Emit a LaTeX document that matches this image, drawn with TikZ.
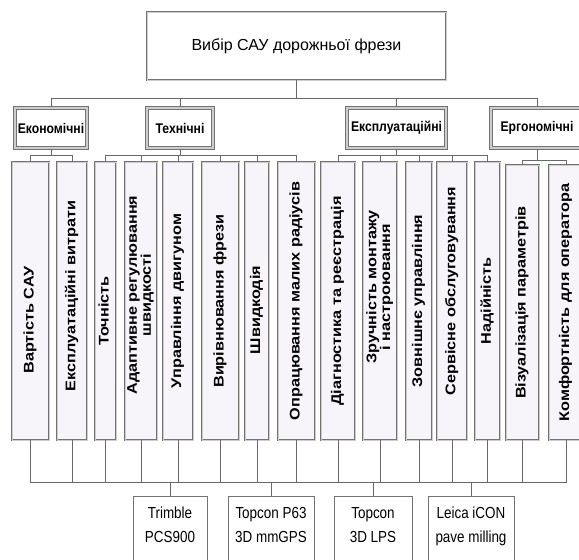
\documentclass[tikz,border=0pt]{standalone}
\usepackage{fontspec}
\setmainfont{Liberation Sans}
\usepackage{graphicx}

\definecolor{framegray}{RGB}{115,115,115}
\definecolor{bandgray}{RGB}{205,205,205}
\definecolor{leaffill}{RGB}{247,245,250}
\definecolor{linegray}{RGB}{105,105,105}

% rotated label of a criterion, optional shift along the box
\newcommand{\vtext}[2][0pt]{\rotatebox{90}{\hspace*{#1}\scalebox{1.16}[1]{\begin{tabular}{@{}c@{}}#2\end{tabular}}\hspace*{-#1}}}
\newcommand{\ctext}[1]{\scalebox{0.87}[1]{#1}}
\newcommand{\stext}[1]{\raisebox{4pt}[\height][\depth]{\scalebox{0.84}[1]{\begin{tabular}{@{}c@{}}#1\end{tabular}}}}

\tikzset{
  titlebox/.style={draw=framegray, double=bandgray, double distance=1pt, line width=0.8pt,
    fill=white, minimum width=299pt, minimum height=68pt, inner sep=0pt,
    font=\fontsize{16}{19}\selectfont},
  catbox/.style={draw=framegray, double=bandgray, double distance=1.6pt, line width=1.1pt,
    fill=white, minimum height=40pt, inner sep=0pt, font=\fontsize{14}{16}\selectfont\bfseries},
  leafbox/.style={draw=framegray, double=bandgray, double distance=0.9pt, line width=0.8pt,
    fill=leaffill, minimum height=278pt, inner sep=0pt, font=\fontsize{14}{12.5}\selectfont\bfseries},
  sysbox/.style={draw=framegray, line width=0.8pt, fill=white, minimum height=66pt,
    inner sep=0pt, anchor=north, font=\fontsize{16}{24}\selectfont},
  link/.style={draw=linegray, line width=0.9pt},
}

\begin{document}
\begin{tikzpicture}[x=1pt,y=-1pt]
  \useasboundingbox (0,0) rectangle (579,560);
  \clip (0,0) rectangle (579,560);

  % top
  \node[titlebox] (title) at (296.5,46) {Вибір САУ дорожньої фрези};

  % groups of criteria
  \node[catbox, minimum width=72pt] (eco) at (51,128) {\ctext{Економічні}};
  \node[catbox, minimum width=66pt] (tech) at (180,128) {\ctext{Технічні}};
  \node[catbox, minimum width=99pt] (expl) at (396.5,128) {\ctext{Експлуатаційні}};
  \node[catbox, minimum width=92pt] (ergo) at (537,128) {\ctext{Ергономічні}};

  % criteria
  \node[leafbox, minimum width=37pt] (vart) at (30.5,301) {\vtext[-19pt]{Вартість САУ}};
  \node[leafbox, minimum width=30pt] (vytr) at (72,301) {\vtext[5pt]{Експлуатаційні витрати}};
  \node[leafbox, minimum width=21pt] (toch) at (105.5,301) {\vtext[-10pt]{Точність}};
  \node[leafbox, minimum width=32pt] (adapt) at (141,301) {\vtext[6pt]{Адаптивне регулювання\\швидкості}};
  \node[leafbox, minimum width=30pt] (dvyg) at (178,301) {\vtext{Управління двигуном}};
  \node[leafbox, minimum width=37pt] (vyriv) at (220.5,301) {\vtext{Вирівнювання фрези}};
  \node[leafbox, minimum width=24pt] (shvyd) at (257,301) {\vtext[-9pt]{Швидкодія}};
  \node[leafbox, minimum width=37pt] (opr) at (296.5,301) {\vtext{Опрацювання малих радіусів}};
  \node[leafbox, minimum width=34pt] (diag) at (338,301) {\vtext{Діагностика та реєстрація}};
  \node[leafbox, minimum width=34pt] (zruch) at (380,301) {\vtext[14pt]{Зручність монтажу\\і настроювання}};
  \node[leafbox, minimum width=26pt] (zovn) at (419,301) {\vtext{Зовнішнє управління}};
  \node[leafbox, minimum width=30pt] (serv) at (452,301) {\vtext[10pt]{Сервісне обслуговування}};
  \node[leafbox, minimum width=25pt] (nad) at (487.5,301) {\vtext{Надійність}};
  \node[leafbox, minimum width=33pt, minimum height=275pt] (viz) at (522.5,302.5) {\vtext{Візуалізація параметрів}};
  \node[leafbox, minimum width=34pt, minimum height=275pt] (komf) at (566,302.5) {\vtext{Комфортність для оператора}};

  % systems
  \node[sysbox, minimum width=74pt] (trim) at (170,496) {\stext{Trimble\\PCS900}};
  \node[sysbox, minimum width=86pt] (mmgps) at (271,496) {\stext{Topcon P63\\3D mmGPS}};
  \node[sysbox, minimum width=78pt] (lps) at (373,496) {\stext{Topcon\\3D LPS}};
  \node[sysbox, minimum width=86pt] (icon) at (471,496) {\stext{Leica iCON\\pave milling}};

  % connectors
  \coordinate (topbus) at (296.5,98);
  \draw[link] (title.south) -- (topbus);
  \foreach \c in {eco,tech,expl,ergo}
    \draw[link] (\c.north) |- (topbus);

  \coordinate (ecobus) at (51,155);
  \coordinate (techbus) at (180,155);
  \coordinate (explbus) at (396.5,155);
  \coordinate (ergobus) at (537,160);
  \draw[link] (eco.south) -- (ecobus);
  \draw[link] (tech.south) -- (techbus);
  \draw[link] (expl.south) -- (explbus);
  \draw[link] (ergo.south) -- (ergobus);
  \foreach \l in {vart,vytr}
    \draw[link] (\l.north) |- (ecobus);
  \foreach \l in {toch,adapt,dvyg,vyriv,shvyd,opr}
    \draw[link] (\l.north) |- (techbus);
  \foreach \l in {diag,zruch,zovn,serv,nad}
    \draw[link] (\l.north) |- (explbus);
  \foreach \l in {viz,komf}
    \draw[link] (\l.north) |- (ergobus);

  \coordinate (lowbus) at (296.5,482);
  \foreach \l in {vart,vytr,toch,adapt,dvyg,vyriv,shvyd,opr,diag,zruch,zovn,serv,nad,viz,komf}
    \draw[link] (\l.south) |- (lowbus);
  \foreach \s in {trim,mmgps,lps,icon}
    \draw[link] (\s.north) |- (lowbus);
\end{tikzpicture}
\end{document}
